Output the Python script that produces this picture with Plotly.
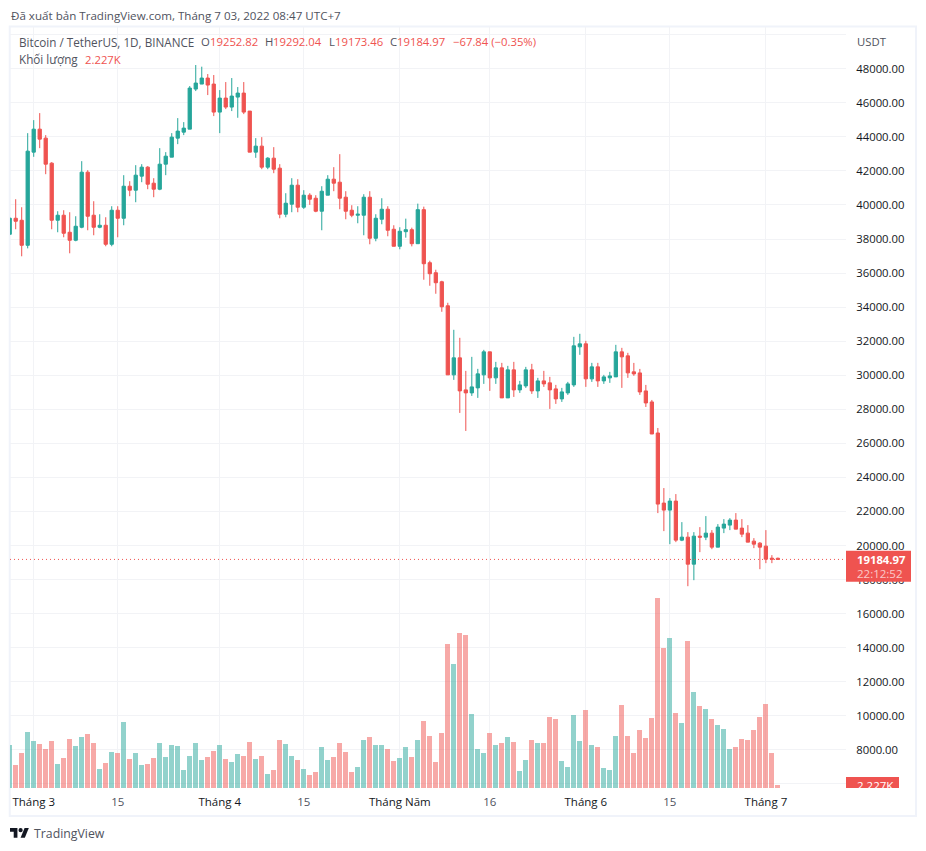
import plotly.graph_objects as go
import pandas as pd

dates = [d.strftime("%Y-%m-%d") for d in pd.date_range("2022-02-25", "2022-07-03")]

opens = [38278, 39219, 39100, 37630,
  43100, 44450, 43923, 42453, 39102, 39396, 38396, 37926, 38690, 41924, 39396, 38690, 38808, 37690, 39690, 39219, 41101, 40866, 41690, 42218, 41277, 40924, 42394, 42806, 43923, 44276, 44452, 46804, 47098, 47451, 47098,
  45452, 46275, 45746, 46334, 46569, 45511, 43100, 43453, 42218, 42747, 42159, 39454, 40042, 41160, 39866, 40572, 40395, 39631, 40572, 41512, 41336, 40454, 39690, 39396, 39396, 40454, 38043, 39160, 39749, 38572,
  37573, 38430, 38548, 37725, 39724, 36608, 36020, 35490, 34079, 30022, 31022, 29140, 28964, 29258, 30022, 31374, 29846, 30434, 28670, 30316, 29140, 29375, 30316, 29081, 29669, 29552, 29199, 28611, 28964, 29434, 31668,
  31845, 29787, 30492, 29669, 29846, 29904, 31374, 31139, 30200, 30137, 29079, 28432, 26609, 22493, 22082, 22611, 20318, 20494, 18906, 20553, 20494, 20729, 19906, 21023, 21200, 21494, 21023, 20729, 20259, 20141,
  19965, 19259, 19252.82]
closes = [39219, 39042, 37630, 43160,
  44450, 43865, 42394, 39102, 39396, 38337, 37926, 38749, 41924, 39337, 38690, 38808, 37690, 39690, 39219, 41101, 40866, 41748, 42218, 41218, 40924, 42394, 42865, 43982, 44335, 44511, 46863, 47157, 47451, 47040, 45452,
  46275, 45746, 46393, 46569, 45452, 43100, 43453, 42218, 42747, 42100, 39454, 40101, 41160, 39866, 40572, 40336, 39631, 40806, 41512, 41277, 40395, 39631, 39396, 39454, 40454, 38043, 39219, 39749, 38514, 37573,
  38455, 38548, 37725, 39724, 36549, 35961, 35432, 34020, 30022, 31022, 29081, 28964, 29316, 30081, 31374, 29846, 30434, 28670, 30316, 29140, 29434, 30316, 29081, 29669, 29493, 29140, 28611, 29022, 29493, 31727, 31845,
  29787, 30492, 29669, 29904, 29963, 31374, 31080, 30140, 30080, 29020, 28373, 26550, 22434, 22082, 22611, 20318, 20494, 18906, 20553, 20494, 20729, 19906, 21082, 21258, 21494, 20964, 20670, 20200, 20082, 19906,
  19200, 19200, 19184.97]
highs = [39280, 40336, 39866, 44216,
  44980, 45393, 44100, 42512, 39631, 39690, 39572, 39337, 42571, 42042, 40219, 39454, 39278, 39925, 39925, 41748, 41395, 42336, 42394, 42277, 41571, 43335, 43100, 44217, 45099, 44864, 46981, 48216, 48118, 47686, 47628,
  46745, 47216, 47451, 46922, 47216, 45511, 43923, 43982, 42806, 43394, 42394, 40689, 41571, 41512, 40866, 40689, 40572, 41101, 41748, 42218, 42982, 40807, 39984, 39925, 40630, 40807, 39454, 40395, 39925, 38808,
  38690, 39195, 38666, 40077, 39900, 36725, 36196, 35549, 34256, 32668, 32198, 30257, 31080, 30375, 31492, 31374, 30786, 30728, 30551, 30786, 29669, 30492, 30669, 29846, 30257, 29904, 29434, 29258, 29610, 32256, 32433,
  32021, 30728, 30728, 30022, 30198, 31786, 31610, 31316, 30725, 30372, 29432, 28550, 26903, 23375, 22787, 23022, 21376, 20788, 20788, 21082, 21729, 20906, 21258, 21552, 21611, 21905, 21552, 21200, 20435, 20200,
  20906, 19436, 19292.04]
lows = [38278, 38572, 36985, 37450,
  42826, 43335, 41806, 38572, 38396, 38102, 37161, 37867, 38631, 38514, 38220, 38631, 37573, 37573, 38102, 38808, 40513, 40160, 41336, 40924, 40454, 40866, 41748, 42806, 43570, 44100, 44452, 46687, 47098, 46452, 45217,
  44217, 45628, 45511, 45119, 45334, 43100, 42767, 42100, 42100, 41865, 39219, 39278, 39572, 39572, 39768, 40003, 39572, 38514, 40572, 40807, 39748, 39160, 39278, 38925, 38220, 37690, 37867, 38866, 38161, 37573,
  37396, 38078, 37568, 37725, 35608, 35255, 34785, 33726, 30022, 29728, 27788, 26729, 28787, 28670, 29493, 29081, 29493, 28670, 28670, 28728, 28964, 29258, 28905, 28670, 29316, 28023, 28317, 28434, 28846, 29316, 31198,
  29316, 29610, 29316, 29493, 29552, 29904, 29258, 29846, 29965, 28844, 28138, 26550, 21905, 20847, 20082, 20200, 20259, 17613, 17966, 19612, 20318, 19788, 19906, 20729, 20906, 20964, 20494, 20200, 19847, 18612,
  18965, 18965, 19173.46]
volumes_k = [35.1, 18.8, 28.6, 45.7,
  38.4, 35.9, 31.8, 38.4, 19.6, 24.5, 40.0, 34.3, 41.6, 44.1, 36.7, 15.5, 20.4, 29.4, 28.6, 53.9, 23.7, 28.6, 18.8, 19.6, 24.5, 36.7, 25.3, 35.1, 34.3, 14.7, 26.1, 36.7, 22.8, 25.3, 30.2,
  35.1, 23.7, 21.2, 27.7, 26.1, 37.5, 23.7, 26.1, 11.4, 14.7, 39.2, 35.9, 26.1, 22.8, 15.5, 10.6, 13.1, 33.5, 22.8, 25.3, 36.7, 29.4, 13.1, 17.1, 39.2, 41.6, 35.1, 35.1, 31.8, 22.0,
  24.5, 33.5, 25.3, 39.2, 54.7, 42.4, 21.2, 44.9, 117.5, 101.2, 126.5, 124.8, 60.4, 31.8, 28.6, 44.9, 35.1, 36.7, 41.6, 37.5, 13.9, 22.8, 39.2, 36.7, 36.7, 57.9, 56.3, 22.0, 17.1, 59.6, 38.4,
  63.6, 35.1, 33.5, 16.3, 14.7, 42.4, 67.7, 42.4, 28.6, 47.3, 40.8, 57.1, 155.0, 114.2, 122.4, 61.2, 53.0, 120.0, 78.3, 66.9, 64.5, 56.3, 51.4, 48.1, 31.8, 33.5, 40.0, 39.2, 47.3, 57.9,
  68.5, 28.6, 2.227]

price_ticks = list(range(6000, 52000, 2000))
price_labels = ["" if p in (6000, 50000) else f"{p}.00" for p in price_ticks]
month_ticks = ["2022-03-01", "2022-03-15", "2022-04-01", "2022-04-15", "2022-05-01",
               "2022-05-16", "2022-06-01", "2022-06-15", "2022-07-01"]
month_labels = ["Tháng 3", "15", "Tháng 4", "15", "Tháng Năm", "16", "Tháng 6", "15", "Tháng 7"]

UP, DOWN = "#26a69a", "#ef5350"
GRID, FRAME = "#f2f3f6", "#f0f3fa"
INK, SOFT = "#131722", "#50535e"
FONT = "Open Sans, Noto Sans, sans-serif"

# pane in pixels: x 10..846, y 27..788
PL, PR, PT, PB = 10, 846, 27, 788
def fx(x): return (x - PL) / (PR - PL)
def fy(y): return (PB - y) / (PB - PT)

fig = go.Figure()
bar_colors = ["rgba(38,166,154,.5)" if c >= o else "rgba(239,83,80,.5)" for o, c in zip(opens, closes)]
fig.add_trace(go.Bar(x=dates, y=volumes_k, yaxis="y2", marker=dict(color=bar_colors, line_width=0),
                     width=72000000, showlegend=False, hoverinfo="skip"))
fig.add_trace(go.Candlestick(x=dates, open=opens, high=highs, low=lows, close=closes,
                             increasing=dict(line=dict(color=UP, width=1), fillcolor=UP),
                             decreasing=dict(line=dict(color=DOWN, width=1), fillcolor=DOWN),
                             whiskerwidth=0, showlegend=False, hoverinfo="skip"))

def text(x, y, s, color=INK, size=11.3, anchor="left", **kw):
    return dict(xref="paper", yref="paper", x=fx(x), y=fy(y), text=s, showarrow=False,
                xanchor=anchor, yanchor="middle", font=dict(family=FONT, size=size, color=color),
                borderpad=0, **kw)

annotations = [
    text(9.5, 15, "Đã xuất bản TradingView.com, Tháng 7 03, 2022 08:47 UTC+7", SOFT, 11.6),
    text(17.5, 41.5, "Bitcoin / TetherUS, 1D, BINANCE", SOFT, 11.7),
    text(200, 41.5, "O", SOFT), text(209, 41.5, "19252.82", DOWN),
    text(264, 41.5, "H", SOFT), text(272, 41.5, "19292.04", DOWN),
    text(327.5, 41.5, "L", SOFT), text(334, 41.5, "19173.46", DOWN),
    text(389, 41.5, "C", SOFT), text(396, 41.5, "19184.97", DOWN),
    text(452, 41.5, "−67.84 (−0.35%)", DOWN),
    text(17.5, 59, "Khối lượng", SOFT, 11.7), text(84, 59, "2.227K", DOWN),
    text(855.5, 41, "USDT", SOFT),
    text(855.8, 559.3, "<b>19184.97</b>", "#ffffff", 11.3),
    text(855.8, 573.3, "22:12:52", "rgba(255,255,255,.7)", 11.5),
    text(856.5, 785, "2.227K", "#ffffff", 11.5),
    dict(xref="paper", yref="paper", x=fx(846), y=fy(788), xanchor="left", yanchor="top", text=" ",
         width=56, height=9, showarrow=False, bgcolor="#ffffff", borderpad=0),
    text(33, 833, "TradingView", SOFT, 12.3),
]

def logo_path(points):
    s = 0.53
    return "M" + "L".join(f"{fx(10 + s * a):.5f},{fy(826 + s * b):.5f}" for a, b in points) + "Z"

shapes = [
    dict(type="rect", xref="paper", yref="paper", x0=fx(9.7), x1=fx(916), y0=fy(26.5), y1=fy(816),
         line=dict(color=FRAME, width=2), layer="below"),
    dict(type="line", xref="paper", yref="y", x0=0, x1=1, y0=19184.97, y1=19184.97,
         line=dict(color=DOWN, width=1, dash="1px,3px"), layer="above"),
    dict(type="rect", xref="paper", yref="paper", x0=fx(846), x1=fx(911), y0=fy(550.7), y1=fy(581.7),
         fillcolor=DOWN, line_width=0),
    dict(type="rect", xref="paper", yref="paper", x0=fx(846), x1=fx(899), y0=fy(777), y1=fy(788),
         fillcolor=DOWN, line_width=0),
    dict(type="path", xref="paper", yref="paper", line_width=0, fillcolor=INK,
         path=logo_path([(0, 4), (14, 4), (14, 22), (7, 22), (7, 11), (0, 11)])),
    dict(type="path", xref="paper", yref="paper", line_width=0, fillcolor=INK,
         path=logo_path([(27.5, 4), (35.5, 4), (28, 22), (20, 22)])),
    dict(type="circle", xref="paper", yref="paper", line_width=0, fillcolor=INK,
         x0=fx(10 + .53 * 16), x1=fx(10 + .53 * 24), y0=fy(826 + .53 * 4), y1=fy(826 + .53 * 12)),
]

month_text = [f'<span style="color:{INK if s.startswith("Tháng") else SOFT}">{s}</span>' for s in month_labels]

fig.update_layout(
    width=926, height=851, margin=dict(l=PL, r=926 - PR, t=PT, b=851 - PB),
    paper_bgcolor="#ffffff", plot_bgcolor="#ffffff", boxgap=0.22, bargap=0,
    showlegend=False, hovermode=False, font=dict(family=FONT, size=12, color=INK),
    xaxis=dict(type="date", range=["2022-02-25 01:12", "2022-07-14 08:24"], rangeslider=dict(visible=False),
               tickmode="array", tickvals=month_ticks, ticktext=month_text, showgrid=True, gridcolor=GRID,
               gridwidth=1, ticks="outside", ticklen=3, tickcolor="rgba(0,0,0,0)", showline=False, zeroline=False,
               tickfont=dict(family=FONT, size=11.5, color=INK)),
    yaxis=dict(range=[5763, 50449], side="right", tickmode="array", tickvals=price_ticks, ticktext=price_labels,
               showgrid=True, gridcolor=GRID, gridwidth=1, ticks="outside", ticklen=7, tickcolor="rgba(0,0,0,0)",
               showline=False, zeroline=False, tickfont=dict(family=FONT, size=11.3, color=INK)),
    yaxis2=dict(range=[0, 621], overlaying="y", side="left", visible=False, showgrid=False, zeroline=False),
    annotations=annotations, shapes=shapes,
)

fig.write_html("out.html", config=dict(displayModeBar=False, responsive=False),
               post_script="document.body.style.margin='0';")
